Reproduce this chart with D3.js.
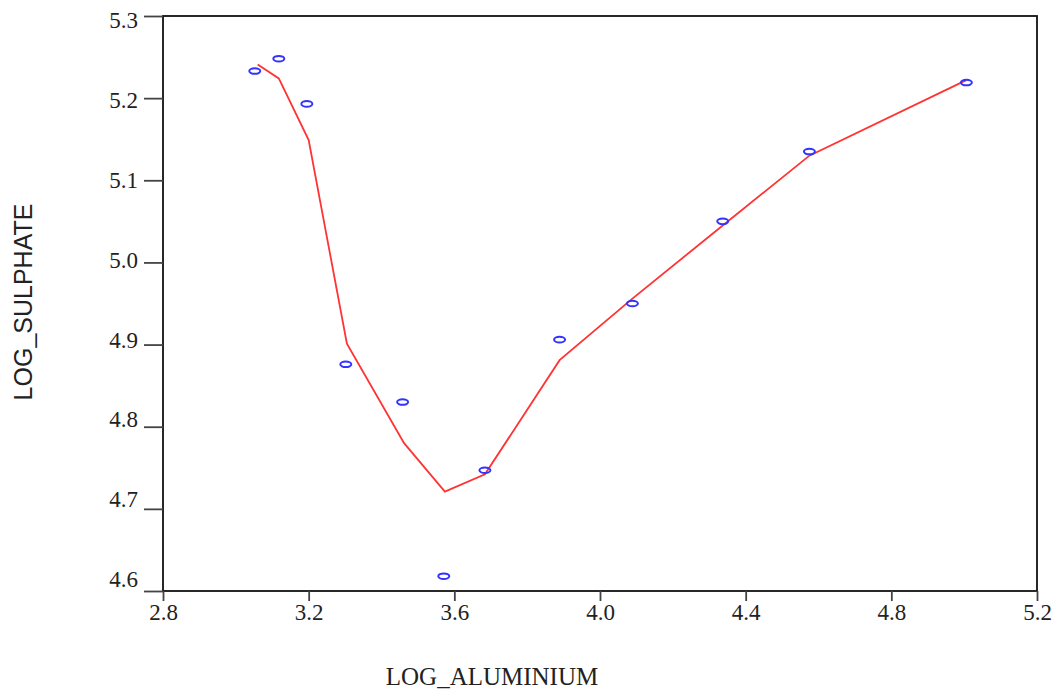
<!DOCTYPE html>
<html><head><meta charset="utf-8">
<script src="https://cdn.jsdelivr.net/npm/d3@7"></script>
<style>body{margin:0;background:#fff}</style>
</head><body>
<script>
const xTicks = [2.8, 3.2, 3.6, 4.0, 4.4, 4.8, 5.2];
const yTicks = [4.6, 4.7, 4.8, 4.9, 5.0, 5.1, 5.2, 5.3];
const logAluminium = [3.052, 3.118, 3.195, 3.302, 3.458, 3.571, 3.684, 3.889, 4.089, 4.337, 4.575, 5.006];
const logSulphate  = [5.233, 5.248, 5.193, 4.876, 4.830, 4.618, 4.747, 4.906, 4.950, 5.050, 5.135, 5.219];
const fitX = [3.06, 3.118, 3.200, 3.305, 3.462, 3.574, 3.684, 3.889, 4.089, 4.337, 4.575, 5.006];
const fitY = [5.241, 5.224, 5.149, 4.901, 4.780, 4.721, 4.742, 4.881, 4.956, 5.045, 5.130, 5.222];

const W = 1062, H = 692;
const m = {left: 163, top: 16, right: 1037, bottom: 591};
const svg = d3.select("body").append("svg").attr("width", W).attr("height", H);
const x = d3.scaleLinear().domain([2.8, 5.2]).range([m.left, m.right]);
const y = d3.scaleLinear().domain([4.6, 5.3]).range([m.bottom, m.top]);
// tick labels on the y axis sit on a slightly tighter spacing than the ticks
const yLab = d3.scaleLinear().domain([4.6, 5.3]).range([579, 20.5]);

// frame
svg.append("rect").attr("x", m.left).attr("y", m.top)
  .attr("width", m.right - m.left).attr("height", m.bottom - m.top)
  .attr("fill", "none").attr("stroke", "#111").attr("stroke-width", 1.8);

const serif = "'Liberation Serif', 'Times New Roman', serif";
const xAxis = svg.append("g").attr("transform", `translate(0,${m.bottom})`)
  .call(d3.axisBottom(x).tickValues(xTicks).tickFormat(d3.format(".1f")).tickSize(10).tickPadding(3));
const yAxis = svg.append("g").attr("transform", `translate(${m.left},0)`)
  .call(d3.axisLeft(y).tickValues(yTicks).tickFormat(d3.format(".1f")).tickSize(19).tickPadding(6));
[xAxis, yAxis].forEach(g => {
  g.select(".domain").remove();
  g.selectAll(".tick line").attr("stroke", "#444").attr("stroke-width", 1.8);
  g.selectAll(".tick text").attr("fill", "#222")
    .style("font-family", serif).style("font-size", "23px");
});
yAxis.selectAll(".tick text").attr("dy", "0.32em")
  .attr("y", d => yLab(d) - y(d));

// fitted line
const line = d3.line().x(d => x(d[0])).y(d => y(d[1]));
svg.append("path").datum(fitX.map((v, i) => [v, fitY[i]]))
  .attr("d", line).attr("fill", "none").attr("stroke", "#ff3333").attr("stroke-width", 1.8);

// points
svg.selectAll("ellipse.pt").data(logAluminium.map((v, i) => [v, logSulphate[i]]))
  .enter().append("ellipse").attr("class", "pt")
  .attr("cx", d => x(d[0])).attr("cy", d => y(d[1]))
  .attr("rx", 5.5).attr("ry", 2.8)
  .attr("fill", "none").attr("stroke", "#3333ff").attr("stroke-width", 2);

// titles
svg.append("text").attr("x", 492).attr("y", 685)
  .attr("text-anchor", "middle")
  .style("font-family", serif).style("font-size", "25px")
  .attr("fill", "#222").text("LOG_ALUMINIUM");
svg.append("text").attr("transform", `translate(32,${302}) rotate(-90)`)
  .attr("text-anchor", "middle")
  .style("font-family", "'Liberation Sans', Arial, sans-serif").style("font-size", "25px")
  .attr("fill", "#222").text("LOG_SULPHATE");
</script>
</body></html>
